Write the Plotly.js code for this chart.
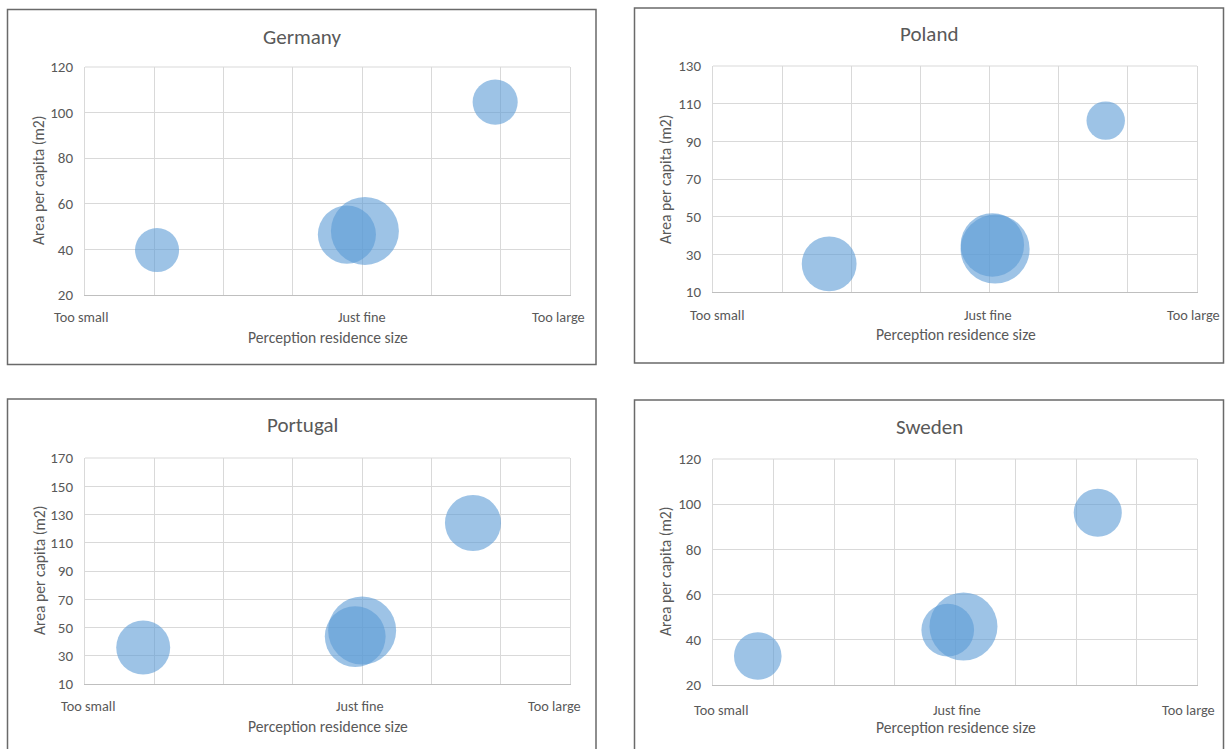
<!DOCTYPE html>
<html>
<head>
<meta charset="utf-8">
<script src="https://cdn.plot.ly/plotly-3.0.1.min.js"></script>
<style>
  html, body { margin: 0; padding: 0; background: #ffffff; }
  #chart { width: 1226px; height: 749px; }
</style>
</head>
<body>
<div id="chart"></div>
<script>
// ---------------- DATA ----------------
const countries = ['Germany', 'Poland', 'Portugal', 'Sweden'];
const perceptionLabels = ['Too small', 'Just fine', 'Too large'];
const xAxisTitle = 'Perception residence size';
const yAxisTitle = 'Area per capita (m2)';

// x: mean perception (1 = too small, 2 = just fine, 3 = too large)
// y: area per capita (m2); size: bubble size
const germanyX = [1.26, 1.945, 2.01, 2.48];
const germanyY = [39.7, 46.5, 48.1, 104.6];
const germanySize = [42, 73, 100, 44];

const polandX = [1.42, 2.02, 2.01, 2.42];
const polandY = [24.9, 32.8, 35.0, 101.0];
const polandSize = [65, 103, 87, 32];

const portugalX = [1.21, 1.975, 2.0, 2.40];
const portugalY = [35.8, 43.6, 47.9, 124.0];
const portugalSize = [63, 80, 100, 68];

const swedenX = [1.185, 1.97, 2.035, 2.59];
const swedenY = [32.8, 44.3, 45.9, 96.2];
const swedenSize = [49, 60, 100, 50];

const yRanges = { Germany: [20, 120], Poland: [10, 130], Portugal: [10, 170], Sweden: [20, 120] };
const xRanges = { Germany: [1, 2.75], Poland: [1, 2.75], Portugal: [1, 2.75], Sweden: [1, 3] };

// ---------------- LAYOUT HELPERS ----------------
const W = 1226, H = 749;
const px = v => v / W;
const py = v => 1 - v / H;

const FONT = 'Carlito, Lato, "Open Sans", sans-serif';
const TXT = '#595959';
const GRID = '#D9D9D9';
const BUBBLE = 'rgba(91,155,213,0.85)';
const maxDiameter = 68;
const sizeRef = 2 * 100 / (maxDiameter * maxDiameter);

// panel geometry (pixels)
const panels = {
  Germany:  { plot: [85, 67, 570, 295],  box: [7.5, 9.5, 596, 364.5],  title: [302, 37],
              labels: [[81.5, 317], [362, 317], [558, 317]], xt: [327.5, 337], yt: [38, 181] },
  Poland:   { plot: [713, 66, 1197, 292], box: [634.5, 8, 1223.5, 363], title: [929, 34],
              labels: [[716.5, 315], [988, 315], [1193, 315]], xt: [955.5, 334], yt: [665, 180] },
  Portugal: { plot: [85, 458, 570, 684],  box: [7.5, 399, 596, 770],   title: [302, 425],
              labels: [[88, 706], [360, 706], [554.5, 706]], xt: [327.5, 726], yt: [39, 571] },
  Sweden:   { plot: [713, 459, 1197, 685], box: [634.5, 400, 1223.5, 770], title: [929, 427],
              labels: [[720.5, 710], [957, 710], [1188, 710]], xt: [955.5, 727.5], yt: [665, 572] }
};

const dataByCountry = {
  Germany: [germanyX, germanyY, germanySize],
  Poland: [polandX, polandY, polandSize],
  Portugal: [portugalX, portugalY, portugalSize],
  Sweden: [swedenX, swedenY, swedenSize]
};

const traces = [];
const layout = {
  width: W, height: H,
  margin: { l: 0, r: 0, t: 0, b: 0 },
  paper_bgcolor: '#ffffff',
  plot_bgcolor: '#ffffff',
  showlegend: false,
  font: { family: FONT, color: TXT, size: 14 },
  annotations: [],
  shapes: []
};

countries.forEach((c, i) => {
  const n = i === 0 ? '' : String(i + 1);
  const p = panels[c];
  const [x0, y0, x1, y1] = p.plot;
  const d = dataByCountry[c];

  traces.push({
    type: 'scatter', mode: 'markers',
    x: d[0], y: d[1],
    xaxis: 'x' + n, yaxis: 'y' + n,
    marker: { size: d[2], sizemode: 'area', sizeref: sizeRef, color: BUBBLE, line: { width: 0 } },
    hoverinfo: 'x+y', cliponaxis: false
  });

  layout['xaxis' + n] = {
    domain: [px(x0), px(x1)], anchor: 'y' + n,
    range: xRanges[c], dtick: 0.25, tick0: 1,
    showticklabels: false, ticks: '',
    showgrid: true, gridcolor: GRID, gridwidth: 1,
    zeroline: false, showline: true, linecolor: '#BFBFBF', linewidth: 1,
    fixedrange: true
  };
  layout['yaxis' + n] = {
    domain: [py(y1), py(y0)], anchor: 'x' + n,
    range: yRanges[c], dtick: 20, tick0: yRanges[c][0],
    ticks: '', ticklabelstandoff: 8,
    tickfont: { family: FONT, color: TXT, size: 15 },
    showgrid: true, gridcolor: GRID, gridwidth: 1,
    zeroline: false, showline: true, linecolor: GRID, linewidth: 1, mirror: true,
    fixedrange: true
  };

  // top edge of plot area
  layout.shapes.push({ type: 'line', xref: 'paper', yref: 'paper',
    x0: px(x0), x1: px(x1), y0: py(y0), y1: py(y0), line: { color: GRID, width: 1 } });

  // chart border
  const b = p.box;
  layout.shapes.push({ type: 'rect', xref: 'paper', yref: 'paper',
    x0: px(b[0]), x1: px(b[2]), y0: py(b[1]), y1: py(b[3]),
    line: { color: '#6A6A6A', width: 1.5 }, fillcolor: 'rgba(0,0,0,0)' });

  // title
  layout.annotations.push({ text: c, xref: 'paper', yref: 'paper',
    x: px(p.title[0]), y: py(p.title[1]), xanchor: 'center', yanchor: 'middle',
    showarrow: false, font: { family: FONT, size: 21, color: TXT } });

  // perception labels
  perceptionLabels.forEach((t, k) => {
    layout.annotations.push({ text: t, xref: 'paper', yref: 'paper',
      x: px(p.labels[k][0]), y: py(p.labels[k][1]), xanchor: 'center', yanchor: 'middle',
      showarrow: false, font: { family: FONT, size: 14.3, color: TXT } });
  });

  // axis titles
  layout.annotations.push({ text: xAxisTitle, xref: 'paper', yref: 'paper',
    x: px(p.xt[0]), y: py(p.xt[1]), xanchor: 'center', yanchor: 'middle',
    showarrow: false, font: { family: FONT, size: 15.6, color: TXT } });
  layout.annotations.push({ text: yAxisTitle, xref: 'paper', yref: 'paper',
    x: px(p.yt[0]), y: py(p.yt[1]), xanchor: 'center', yanchor: 'middle', textangle: -90,
    showarrow: false, font: { family: FONT, size: 15.6, color: TXT } });
});

Plotly.newPlot('chart', traces, layout, { displayModeBar: false, staticPlot: true });
</script>
</body>
</html>
